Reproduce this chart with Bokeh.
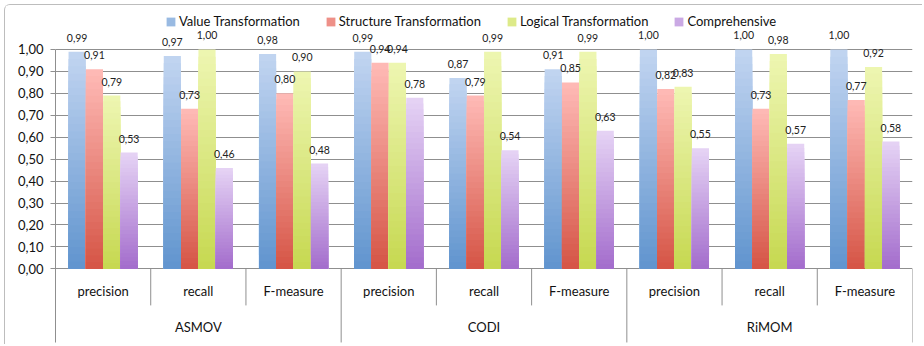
from bokeh.plotting import figure
from bokeh.models import (ColumnDataSource, FactorRange, FixedTicker, CustomJSTickFormatter,
                          Legend, LegendItem, Range1d)
from bokeh.transform import dodge
from bokeh.core.properties import value
from bokeh.embed import file_html
from bokeh.resources import INLINE

# ---------------- data ----------------
systems = ["ASMOV", "CODI", "RiMOM"]
measures = ["precision", "recall", "F-measure"]
series_names = ["Value Transformation", "Structure Transformation",
                "Logical Transformation", "Comprehensive"]
value_transformation = [0.99, 0.97, 0.98, 0.99, 0.87, 0.91, 1.00, 1.00, 1.00]
structure_transformation = [0.91, 0.73, 0.80, 0.94, 0.79, 0.85, 0.82, 0.73, 0.77]
logical_transformation = [0.79, 1.00, 0.90, 0.94, 0.99, 0.99, 0.83, 0.98, 0.92]
comprehensive = [0.53, 0.46, 0.48, 0.78, 0.54, 0.63, 0.55, 0.57, 0.58]
y_ticks = [0.0, 0.1, 0.2, 0.3, 0.4, 0.5, 0.6, 0.7, 0.8, 0.9, 1.0]

# ---------------- style ----------------
FONT = "Lato"
GRID = "#8f8f8f"
# (top colour, bottom colour) of each series' vertical gradient
gradients = [((194, 213, 241), (96, 148, 206)),
             ((255, 187, 183), (213, 84, 69)),
             ((238, 246, 178), (198, 216, 80)),
             ((230, 212, 245), (163, 108, 204))]
offsets = [-0.273, -0.091, 0.091, 0.273]
BAR_W = 0.18
N_SLICES = 30
Y_BOTTOM, Y_TOP = -0.3498, 1.2006
AXIS_BOTTOM = -0.336
SUB_Y, GROUP_Y, SEP_SHORT = -0.099, -0.266, -0.167

factors = [(s, m) for s in systems for m in measures]
all_series = [value_transformation, structure_transformation,
              logical_transformation, comprehensive]

p = figure(width=918, height=340,
           x_range=FactorRange(factors=factors, range_padding=0, group_padding=0,
                               factor_padding=0),
           y_range=Range1d(Y_BOTTOM, Y_TOP),
           x_axis_location=None, output_backend="svg", toolbar_location=None,
           min_border_left=50, min_border_right=11, min_border_top=0, min_border_bottom=0)
p.outline_line_color = None
p.background_fill_color = "white"
p.border_fill_color = "white"
p.xgrid.visible = False
# outer chart-area border (Excel style)
p.styles = {"margin-left": "4px", "margin-top": "4px",
            "border-top": "1px solid #bdbdbd", "border-left": "1px solid #bdbdbd",
            "border-top-left-radius": "6px"}

ax = p.yaxis[0]
ax.ticker = FixedTicker(ticks=y_ticks)
ax.formatter = CustomJSTickFormatter(code="return tick.toFixed(2).replace('.', ',');")
ax.bounds = (AXIS_BOTTOM, 1.0)
ax.axis_line_color = GRID
ax.major_tick_line_color = GRID
ax.major_tick_out = 5
ax.major_tick_in = 0
ax.minor_tick_line_color = None
ax.major_label_standoff = 7
ax.major_label_text_font = FONT
ax.major_label_text_font_size = "13px"
ax.major_label_text_color = "#111111"
p.ygrid.grid_line_color = GRID
p.ygrid.ticker = FixedTicker(ticks=y_ticks)


def lerp(c0, c1, t):
    return "#%02x%02x%02x" % tuple(int(round(a + (b - a) * t)) for a, b in zip(c0, c1))


items = []
for name, vals, (ctop, cbot), off in zip(series_names, all_series, gradients, offsets):
    xs, tops, cols = [], [], []
    for k in range(N_SLICES):
        frac_top = (N_SLICES - k) / N_SLICES
        frac_mid = (N_SLICES - k - 0.5) / N_SLICES
        col = lerp(cbot, ctop, frac_mid)
        for f, v in zip(factors, vals):
            xs.append(f)
            tops.append(v * frac_top)
            cols.append(col)
    src = ColumnDataSource(dict(x=xs, top=tops, color=cols))
    r = p.vbar(x=dodge("x", off, range=p.x_range), top="top", bottom=0, width=BAR_W,
               fill_color="color", line_color=None, source=src)
    items.append(LegendItem(label=name, renderers=[r], index=int(N_SLICES * 0.4) * len(factors)))

# value labels drawn after all bars so they stay on top
for vals, off in zip(all_series, offsets):
    lsrc = ColumnDataSource(dict(x=factors, y=vals,
                                 t=[f"{v:.2f}".replace(".", ",") for v in vals]))
    p.text(x=dodge("x", off, range=p.x_range), y="y", text="t", source=lsrc,
           text_align="center", text_baseline="bottom", y_offset=-10,
           text_font=value(FONT), text_font_size="10.5px", text_color="#222222")

# category separators (Excel-style multi-level axis)
sep_src = ColumnDataSource(dict(
    x=factors,
    yb=[AXIS_BOTTOM if f[1] == measures[-1] else SEP_SHORT for f in factors]))
p.segment(x0=dodge("x", 0.5, range=p.x_range), y0=0, x1=dodge("x", 0.5, range=p.x_range),
          y1="yb", line_color=GRID, line_width=1, source=sep_src)

sub_src = ColumnDataSource(dict(x=factors, t=[f[1] for f in factors]))
p.text(x="x", y=SUB_Y, text="t", source=sub_src, text_align="center",
       text_baseline="middle", text_font=value(FONT), text_font_size="13px",
       text_color="#111111")
grp_src = ColumnDataSource(dict(x=systems, t=systems))
p.text(x="x", y=GROUP_Y, text="t", source=grp_src, text_align="center",
       text_baseline="middle", text_font=value(FONT), text_font_size="13px",
       text_color="#111111")

legend = Legend(items=items, orientation="horizontal", location=(110, 316),
                spacing=25, padding=0, margin=0, label_standoff=3,
                glyph_width=11, glyph_height=11,
                label_text_font=FONT, label_text_font_size="13px",
                label_text_color="#111111",
                border_line_color=None, background_fill_alpha=0)
p.add_layout(legend)

open("out.html", "w").write(file_html(p, INLINE))
